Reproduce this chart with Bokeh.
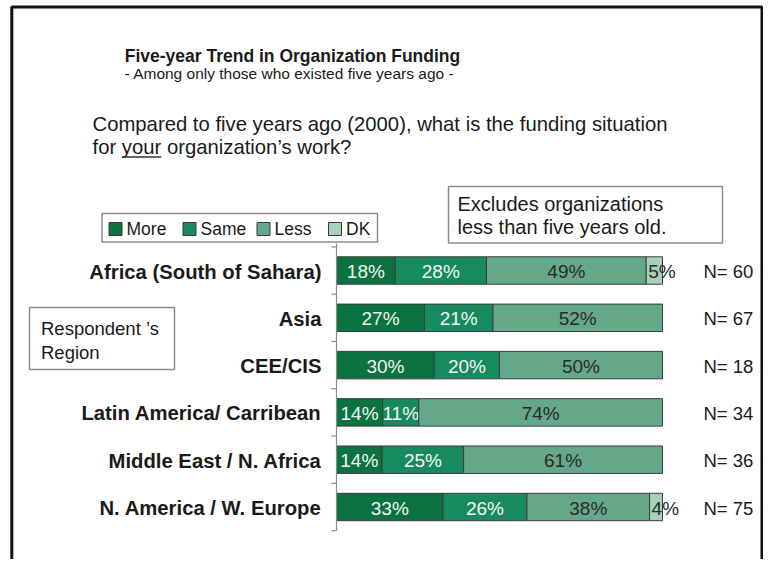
import numpy as np
from bokeh.plotting import figure
from bokeh.models import Range1d
from bokeh.core.properties import value
from bokeh.embed import file_html
from bokeh.resources import INLINE

# ---------------- data ----------------
regions = ["Africa (South of Sahara)", "Asia", "CEE/CIS", "Latin America/ Carribean",
           "Middle East / N. Africa", "N. America / W. Europe"]
series = ["More", "Same", "Less", "DK"]
more = [18, 27, 30, 14, 14, 33]
same = [28, 21, 20, 11, 25, 26]
less = [49, 52, 50, 74, 61, 38]
dk = [5, 0, 0, 0, 0, 4]
n_counts = [60, 67, 18, 34, 36, 75]

title = "Five-year Trend in Organization Funding"
subtitle = "- Among only those who existed five years ago -"
question1 = "Compared to five years ago (2000), what is the funding situation"
question2 = "for your organization\u2019s work?"
note_lines = ["Excludes organizations", "less than five years old."]
axis_note = ["Respondent \u2019s", "Region"]

colors = ["#0b7340", "#178b5e", "#65a889", "#a8d1bb"]
label_colors = ["#f4f4f4", "#f4f4f4", "#2b2b2b", "#2b2b2b"]
FONT = value("Liberation Sans")

# ---------------- layout helpers (pixels -> data units) ----------------
W, H = 763, 559
X0, PXPCT = 336.0, 3.26     # pixel x of 0 %, pixels per percent
Y0, ROW = 270.0, 47.3       # pixel y of first row centre, pixels per row


def X(px):
    return (px - X0) / PXPCT


def Y(py):
    return (py - Y0) / ROW


p = figure(width=W, height=H, output_backend="svg", toolbar_location=None,
           x_range=Range1d(X(0), X(W)), y_range=Range1d(Y(H), Y(0)),
           x_axis_type=None, y_axis_type=None, min_border=0,
           outline_line_color=None, background_fill_color="white",
           border_fill_color="white")

# outer frame
p.line(x=[X(11.3), X(11.3), X(761.5), X(761.5)], y=[Y(640), Y(6.5), Y(6.5), Y(640)],
       line_width=3, line_color="#111111")

# ---------------- titles ----------------
p.text(x=[X(292)], y=[Y(55.5)], text=[title], text_font=FONT, text_font_size="17.5px",
       text_font_style="bold", text_align="center", text_baseline="middle",
       text_color="#1a1a1a")
p.text(x=[X(289)], y=[Y(73.3)], text=[subtitle], text_font=FONT, text_font_size="15.5px",
       text_align="center", text_baseline="middle", text_color="#1a1a1a")

QFS = 20.3
p.text(x=[X(92), X(92)], y=[Y(123), Y(146.5)], text=[question1, question2], text_font=FONT,
       text_font_size=f"{QFS}px", text_align="left", text_baseline="middle",
       text_color="#1a1a1a")
u0 = 92 + 1.445 * QFS
u1 = u0 + 1.945 * QFS
p.segment(x0=[X(u0)], y0=[Y(156.5)], x1=[X(u1)], y1=[Y(156.5)], line_color="#333333",
          line_width=1.3)

# ---------------- boxes ----------------
p.quad(left=[X(101.5), X(448), X(29)], right=[X(377), X(722), X(174)],
       top=[Y(213), Y(186), Y(307)], bottom=[Y(241.5), Y(242.5), Y(369)],
       fill_color=None, line_color="#8c8c8c", line_width=1.5)

p.text(x=[X(457), X(457)], y=[Y(203.3), Y(226.8)], text=note_lines, text_font=FONT,
       text_font_size="20px", text_align="left", text_baseline="middle",
       text_color="#1a1a1a")
p.text(x=[X(40.5), X(40.5)], y=[Y(328), Y(352)], text=axis_note, text_font=FONT,
       text_font_size="18.5px", text_align="left", text_baseline="middle",
       text_color="#1a1a1a")

# legend
leg_x = [115, 189, 263, 334.5]
p.scatter(x=[X(v) for v in leg_x], y=[Y(228.5)] * 4, marker="square", size=13,
          fill_color=colors, line_color="#3a3a3a", line_width=1)
p.text(x=[X(v + 11) for v in leg_x], y=[Y(228.5)] * 4, text=series, text_font=FONT,
       text_font_size="17.5px", text_align="left", text_baseline="middle",
       text_color="#1a1a1a")

# ---------------- bars ----------------
rows = np.arange(len(regions), dtype=float)
vals = np.array([more, same, less, dk], dtype=float)
shares = vals / vals.sum(axis=0) * 100
rights = np.cumsum(shares, axis=0)
lefts = rights - shares

for k in range(len(series)):
    m = vals[k] > 0
    p.hbar(y=rows[m], left=lefts[k][m], right=rights[k][m], height=0.58,
           fill_color=colors[k], line_color="#3c3c3c", line_width=1)
    labels = [f"{int(v)}%" for v in vals[k][m]]
    if k < 3:
        p.text(x=(lefts[k][m] + rights[k][m]) / 2, y=rows[m], text=labels, text_font=FONT,
               text_font_size="19px", text_align="center", text_baseline="middle",
               y_offset=1, text_color=label_colors[k])
    else:
        p.text(x=lefts[k][m], y=rows[m], text=labels, text_font=FONT,
               text_font_size="19px", text_align="left", text_baseline="middle",
               x_offset=2, y_offset=1, text_color=label_colors[k])

# axis (line with ticks at category boundaries)
bounds = np.append(rows - 0.5, rows[-1] + 0.5)
p.segment(x0=[0], y0=[bounds[0] - 0.07], x1=[0], y1=[bounds[-1]], line_color="#8a8a8a",
          line_width=1.2)
p.segment(x0=[X(331)] * len(bounds), y0=bounds, x1=[0] * len(bounds), y1=bounds,
          line_color="#8a8a8a", line_width=1.2)

# category labels
p.text(x=[X(321)] * len(regions), y=rows, text=regions, text_font=FONT,
       text_font_size="20.3px", text_font_style="bold", text_align="right",
       text_baseline="middle", y_offset=1, text_color="#1a1a1a")

# N labels
p.text(x=[X(703)] * len(regions), y=rows, text=[f"N= {n}" for n in n_counts],
       text_font=FONT, text_font_size="18.5px", text_align="left", text_baseline="middle",
       y_offset=1, text_color="#1a1a1a")

open("out.html", "w").write(file_html(p, INLINE))
